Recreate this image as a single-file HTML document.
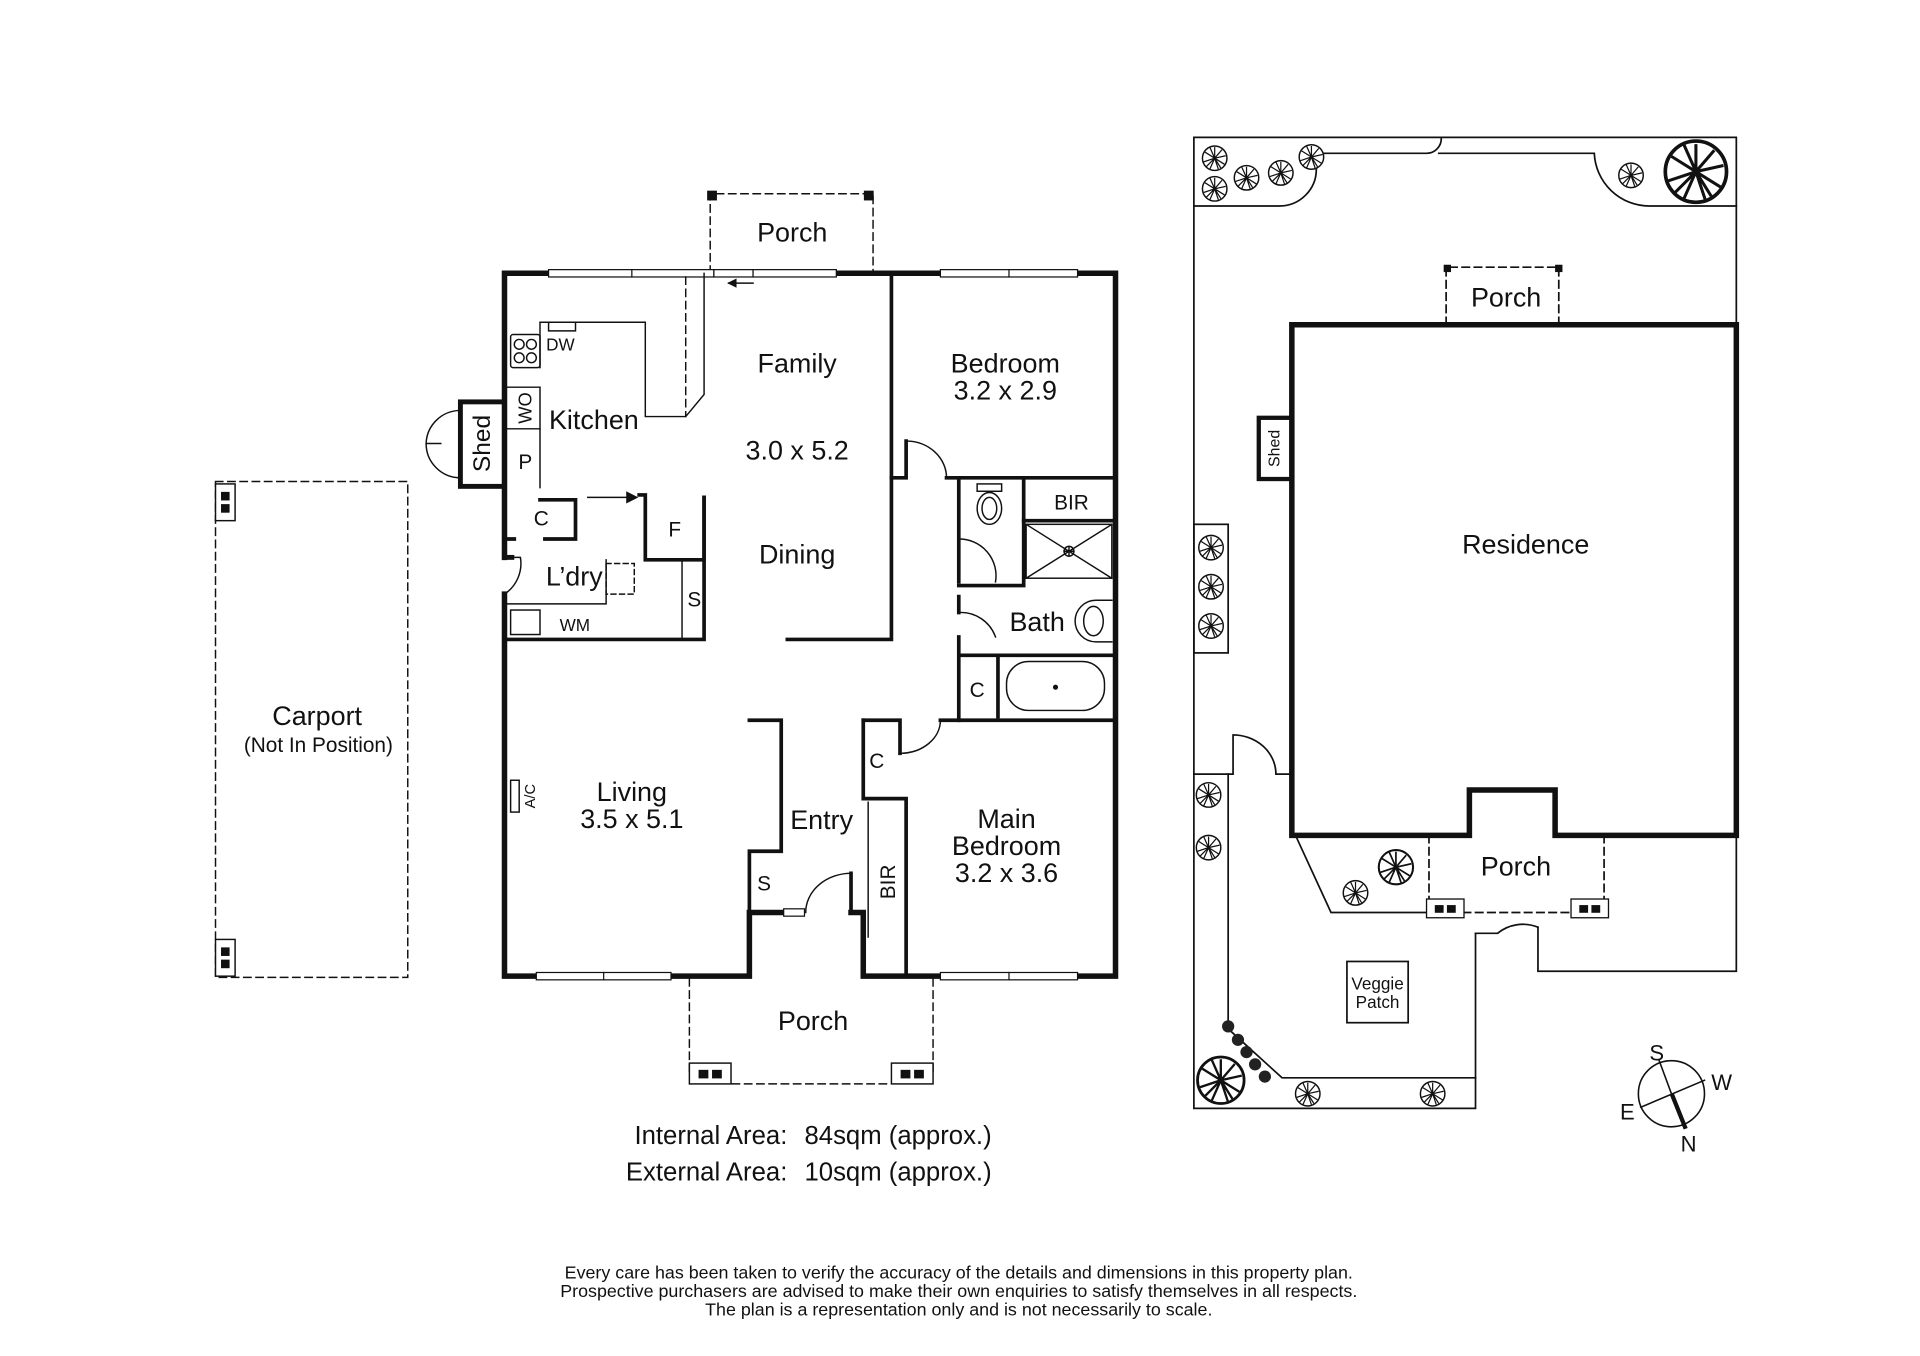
<!DOCTYPE html>
<html><head><meta charset="utf-8"><style>
html,body{margin:0;padding:0;background:#fff;}
svg{display:block;}
text{font-family:"Liberation Sans",Arial,sans-serif;fill:#111;}
</style></head><body>
<svg width="1920" height="1356" viewBox="0 0 1568 1107" xmlns="http://www.w3.org/2000/svg">
<defs>
<g id="tree"><circle r="10" fill="#fff" stroke="#111" stroke-width="1.2"/><path d="M0 0L0-9M0 0L6-7M0 0L9-2M0 0L8 5M0 0L3 9M0 0L-4 9M0 0L-9 3M0 0L-8-5M0 0L-4-9M0 0L5 8M0 0L-7 7" stroke="#111" stroke-width="1"/></g>
<g id="pill"><rect x="0" y="0" width="34" height="17" fill="#fff" stroke="#111" stroke-width="1.2"/><rect x="8" y="6" width="7" height="6" fill="#111"/><rect x="19" y="6" width="7" height="6" fill="#111"/></g>
<g id="pillv"><rect x="0" y="0" width="16" height="30" fill="#fff" stroke="#111" stroke-width="1.2"/><rect x="5" y="7" width="6" height="6" fill="#111"/><rect x="5" y="17" width="6" height="6" fill="#111"/></g>
</defs>
<g fill="none" stroke="#111" stroke-linecap="square">
<rect x="176" y="393" width="157" height="405" stroke-dasharray="6 4" stroke-width="1.2"/>
<use href="#pillv" x="176" y="395"/><use href="#pillv" x="176" y="767"/>
<path d="M580 223V158H713V223" stroke-dasharray="6 4" stroke-width="1.2"/>
<rect x="578" y="156" width="7" height="7" fill="#111"/><rect x="706" y="156" width="7" height="7" fill="#111"/>
<path d="M563 799V876M762 799V876M598 885H728" stroke-dasharray="6 4" stroke-width="1.2"/>
<use href="#pill" x="563" y="868"/><use href="#pill" x="728" y="868"/>

<g stroke-width="4.5">
<path d="M412 455V223H911V797H705V745H695"/>
<path d="M412 485V797H612V745H640"/>
</g>
<g fill="#fff" stroke-width="1">
<rect x="448" y="220" width="135" height="6"/><line x1="516" y1="220" x2="516" y2="226"/>
<rect x="583" y="220" width="32" height="6"/><rect x="615" y="220" width="68" height="6"/>
<rect x="768" y="220" width="112" height="6"/><line x1="824" y1="220" x2="824" y2="226"/>
<rect x="438" y="794" width="110" height="6"/><line x1="493" y1="794" x2="493" y2="800"/>
<rect x="768" y="794" width="112" height="6"/><line x1="824" y1="794" x2="824" y2="800"/>
<rect x="640" y="742" width="17" height="6"/>
</g>
<path d="M615 231H595" stroke-width="1.2"/><path d="M595 231l6-3v6z" fill="#111" stroke-width="1"/>

<rect x="376" y="328" width="36" height="69" stroke-width="4"/>
<text x="0" y="0" transform="translate(400,362) rotate(-90)" font-size="20" text-anchor="middle" stroke="none">Shed</text>
<path d="M376 335A28 28 0 0 0 348 362H360M376 390A28 28 0 0 1 348 362" stroke-width="1.2"/>

<g stroke-width="1.2">
<path d="M441 300V263H527V340H560L575 322V223"/>
<path d="M560 226V340" stroke-dasharray="6 4"/>
<path d="M448 263V270H470V263"/>
<rect x="417" y="273" width="24" height="27" rx="2"/>
<circle cx="424" cy="281" r="4"/><circle cx="434" cy="281" r="4"/><circle cx="424" cy="292" r="4"/><circle cx="434" cy="292" r="4"/>
<path d="M412 316H441V398"/><path d="M412 350H441"/>
<path d="M441 408H470V440H445M420 440H412" stroke-width="3"/>
<path d="M480 406H515" /><path d="M520 406l-8-4v8z" fill="#111"/>
<path d="M522 404H527V457H575V406" stroke-width="3"/>
<path d="M575 406V522H412" stroke-width="3"/>
<path d="M557 457V522"/>
<path d="M412 493H495V457"/>
<rect x="417" y="498" width="24" height="20"/>
<rect x="495" y="460" width="23" height="25" stroke-dasharray="4 3"/>
<path d="M412 455H425A30 30 0 0 1 412 485" />
<path d="M412 455H418" stroke-width="4"/>
<rect x="417" y="637" width="7" height="26"/>
</g>
<path d="M728 223V522H643" stroke-width="3"/>
<g stroke-width="3">
<path d="M728 390H740V360M773 390H911"/>
<path d="M783 390V475M783 487V500"/>
<path d="M836 390V478H783"/>
<path d="M836 425H911"/>
<path d="M783 520V588M783 535H911"/>
<path d="M815 537V585"/>
<path d="M705 588H735V615M768 588H911"/>
<path d="M705 588V652H740M740 652V797"/>
<path d="M612 588H638V695H612V745"/>
<path d="M695 745V713"/>
</g>
<g stroke-width="1.2">
<path d="M740 360A33 30 0 0 1 773 390"/>
<path d="M783 440A30 30 0 0 1 813 475"/>
<path d="M783 500A30 30 0 0 1 813 520"/>
<path d="M735 615A33 27 0 0 0 768 588"/>
<path d="M658 745A37 32 0 0 1 695 713"/>
<path d="M836 393V423"/>
<rect x="798" y="395" width="20" height="6"/>
<ellipse cx="808" cy="415" rx="10" ry="13"/><ellipse cx="808" cy="415" rx="6" ry="9"/>
<rect x="838" y="428" width="70" height="44"/><path d="M838 428L908 472M908 428L838 472"/><circle cx="873" cy="450" r="4"/><path d="M869 450H877M873 446V454"/>
<path d="M908 490H895A15 15 0 0 0 895 524H908"/><ellipse cx="893" cy="507" rx="8" ry="12"/>
<rect x="822" y="540" width="80" height="40" rx="18"/><circle cx="862" cy="561" r="1.5" fill="#111"/>
<path d="M709 655V765"/>
</g>

<g stroke-width="1.4">
<path d="M975 632V112H1418V265M1418 682V793H1256V757M1205 762V905H975V632"/>
<path d="M975 168H1045A30 30 0 0 0 1075 138V125H1165A12 12 0 0 0 1177 112"/>
<path d="M1175 125H1302A45 45 0 0 0 1347 168H1418"/>
<path d="M975 632H1007V600A35 32 0 0 1 1042 632H1055"/>
<path d="M1205 762H1223A33 33 0 0 1 1256 757"/>
<path d="M1003 632V840L1047 880H1205"/>
<path d="M1058 682L1087 745H1167"/>
<path d="M1167 682V745M1310 682V745M1185 745H1290" stroke-dasharray="6 4"/>
<path d="M1181 265V218H1273V265" stroke-dasharray="6 4"/>
<rect x="975" y="428" width="28" height="105"/>
<rect x="1100" y="785" width="50" height="50"/>
</g>
<rect x="1179" y="216" width="6" height="6" fill="#111" stroke="none"/><rect x="1270" y="216" width="6" height="6" fill="#111" stroke="none"/>
<g transform="translate(1165,734) scale(0.9)"><use href="#pill"/></g>
<g transform="translate(1283,734) scale(0.9)"><use href="#pill"/></g>
<path d="M1055 265H1418V682H1270V645H1200V682H1055Z" stroke-width="4.5"/>
<rect x="1028" y="341" width="27" height="50" stroke-width="3.5"/>
<circle cx="1365" cy="893" r="27" stroke-width="1.3"/>
<path d="M1355 866L1375 920" stroke-width="1.3"/><path d="M1366 895L1376 920" stroke-width="3.5"/>
<path d="M1340 904L1392 882" stroke-width="1.3"/>
</g>
<g>
<use href="#tree" x="992" y="129"/><use href="#tree" x="992" y="154"/><use href="#tree" x="1018" y="145"/><use href="#tree" x="1046" y="141"/><use href="#tree" x="1071" y="128"/>
<use href="#tree" x="1332" y="143"/>
<g transform="translate(1385,140) scale(2.5)"><use href="#tree"/></g>
<use href="#tree" x="989" y="447"/><use href="#tree" x="989" y="479"/><use href="#tree" x="989" y="511"/>
<use href="#tree" x="987" y="649"/><use href="#tree" x="987" y="692"/>
<g transform="translate(1140,708) scale(1.4)"><use href="#tree"/></g>
<use href="#tree" x="1107" y="729"/>
<g transform="translate(997,882) scale(1.9)"><use href="#tree"/></g>
<use href="#tree" x="1068" y="893"/><use href="#tree" x="1170" y="893"/>
</g>
<g fill="#222"><circle cx="1003" cy="838" r="5"/><circle cx="1011" cy="849" r="5"/><circle cx="1018" cy="859" r="5"/><circle cx="1025" cy="869" r="5"/><circle cx="1033" cy="879" r="5"/></g>

<g font-size="22" text-anchor="middle">
<text x="647" y="197">Porch</text>
<text x="651" y="304">Family</text>
<text x="651" y="375">3.0 x 5.2</text>
<text x="651" y="460">Dining</text>
<text x="821" y="304">Bedroom</text>
<text x="821" y="326">3.2 x 2.9</text>
<text x="485" y="350">Kitchen</text>
<text x="469" y="478">L’dry</text>
<text x="847" y="515">Bath</text>
<text x="516" y="654">Living</text>
<text x="516" y="676">3.5 x 5.1</text>
<text x="671" y="677">Entry</text>
<text x="822" y="676">Main</text>
<text x="822" y="698">Bedroom</text>
<text x="822" y="720">3.2 x 3.6</text>
<text x="664" y="841">Porch</text>
<text x="259" y="592">Carport</text>
<text x="1230" y="250">Porch</text>
<text x="1246" y="452">Residence</text>
<text x="1238" y="715">Porch</text>
</g>
<g font-size="17" text-anchor="middle">
<text x="260" y="614">(Not In Position)</text>
<text x="442" y="429">C</text><text x="429" y="383">P</text>
<text x="551" y="438">F</text><text x="567" y="495">S</text>
<text x="798" y="569">C</text><text x="716" y="627">C</text><text x="624" y="727">S</text>
<text x="875" y="416">BIR</text>
<text x="1353" y="866" font-size="18">S</text><text x="1406" y="890" font-size="18">W</text>
<text x="1329" y="914" font-size="18">E</text><text x="1379" y="940" font-size="18">N</text>
</g>
<text x="446" y="286" font-size="14">DW</text>
<text x="457" y="515" font-size="14">WM</text>
<text transform="translate(434,333) rotate(-90)" font-size="15" text-anchor="middle">WO</text>
<text transform="translate(437,650) rotate(-90)" font-size="12" text-anchor="middle">A/C</text>
<text transform="translate(731,720) rotate(-90)" font-size="17" text-anchor="middle">BIR</text>
<text transform="translate(1045,366) rotate(-90)" font-size="13" text-anchor="middle">Shed</text>
<text x="1125" y="808" font-size="14" text-anchor="middle">Veggie</text>
<text x="1125" y="823" font-size="14" text-anchor="middle">Patch</text>
<g font-size="21">
<text x="643" y="934" text-anchor="end">Internal Area:</text><text x="657" y="934">84sqm (approx.)</text>
<text x="643" y="964" text-anchor="end">External Area:</text><text x="657" y="964">10sqm (approx.)</text>
</g>
<g font-size="14.6" text-anchor="middle">
<text x="783" y="1044">Every care has been taken to verify the accuracy of the details and dimensions in this property plan.</text>
<text x="783" y="1059">Prospective purchasers are advised to make their own enquiries to satisfy themselves in all respects.</text>
<text x="783" y="1074">The plan is a representation only and is not necessarily to scale.</text>
</g>
</svg>
</body></html>
